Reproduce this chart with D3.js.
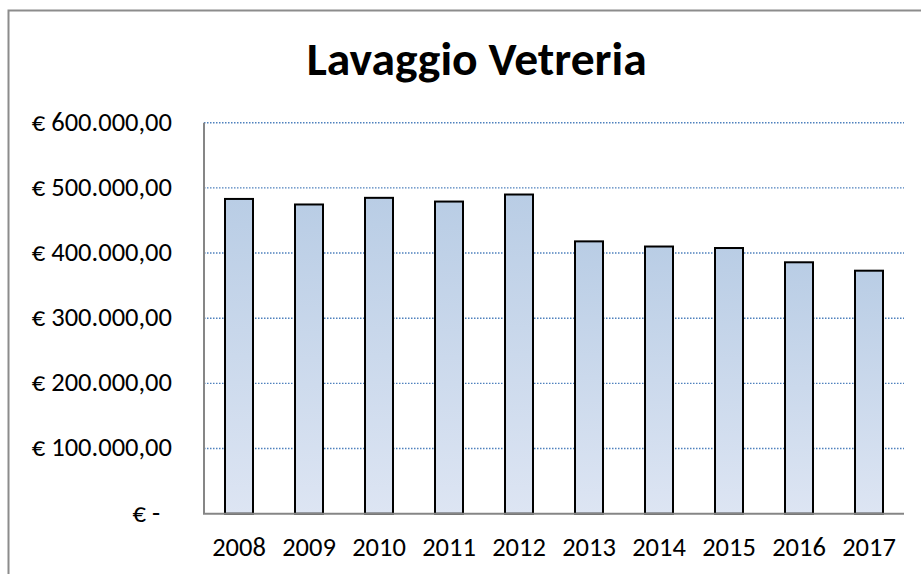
<!DOCTYPE html>
<html>
<head>
<meta charset="utf-8">
<script src="https://cdn.jsdelivr.net/npm/d3@7"></script>
<style>
  body { margin: 0; background: #fff; }
  text { font-family: Carlito, "Open Sans", sans-serif; fill: #000; }
</style>
</head>
<body>
<div id="chart"></div>
<script>
const years = ["2008", "2009", "2010", "2011", "2012", "2013", "2014", "2015", "2016", "2017"];
const costs = [483000, 474500, 484700, 479000, 489800, 417900, 410000, 407700, 385800, 372900];
const yTicks = [0, 100000, 200000, 300000, 400000, 500000, 600000];
const yTickLabels = ["€ -", "€ 100.000,00", "€ 200.000,00", "€ 300.000,00", "€ 400.000,00", "€ 500.000,00", "€ 600.000,00"];
const title = "Lavaggio Vetreria";

const width = 921, height = 574;
const margin = { top: 122.7, right: 17, bottom: 60.3, left: 204 };

const svg = d3.select("#chart").append("svg")
    .attr("width", width)
    .attr("height", height);

// gradient for bars
const grad = svg.append("defs").append("linearGradient")
    .attr("id", "barGrad")
    .attr("x1", 0).attr("y1", 0).attr("x2", 0).attr("y2", 1);
grad.append("stop").attr("offset", "0%").attr("stop-color", "#b9cde5");
grad.append("stop").attr("offset", "100%").attr("stop-color", "#dde5f3");

// outer chart border (only top/left visible)
svg.append("path")
    .attr("d", `M8.5,${height} V10.5 H${width}`)
    .attr("fill", "none")
    .attr("stroke", "#8c8c8c")
    .attr("stroke-width", 2);

const x = d3.scaleBand()
    .domain(years)
    .range([margin.left, width - margin.right])
    .paddingInner(0.6)
    .paddingOuter(0.3);

const y = d3.scaleLinear()
    .domain([0, 600000])
    .range([height - margin.bottom, margin.top]);

// gridlines
svg.append("g")
    .selectAll("line")
    .data(yTicks.slice(1))
    .enter().append("line")
    .attr("x1", margin.left)
    .attr("x2", width - margin.right)
    .attr("y1", d => y(d))
    .attr("y2", d => y(d))
    .attr("stroke", "#4f81bd")
    .attr("stroke-width", 1.4)
    .attr("stroke-dasharray", "1.5,1.5");

// y labels
svg.append("g")
    .selectAll("text")
    .data(yTicks)
    .enter().append("text")
    .attr("x", (d, i) => i === 0 ? 160 : 172)
    .attr("y", d => y(d))
    .attr("dy", "0.3em")
    .attr("text-anchor", "end")
    .style("font-size", "26.5px")
    .text((d, i) => yTickLabels[i]);

// bars
svg.append("g")
    .selectAll("rect")
    .data(costs)
    .enter().append("rect")
    .attr("x", (d, i) => x(years[i]))
    .attr("y", d => y(d))
    .attr("width", x.bandwidth())
    .attr("height", d => y(0) - y(d))
    .attr("fill", "url(#barGrad)")
    .attr("stroke", "#000")
    .attr("stroke-width", 2);

// axes lines
svg.append("line")
    .attr("x1", margin.left).attr("x2", margin.left)
    .attr("y1", margin.top).attr("y2", y(0))
    .attr("stroke", "#868686").attr("stroke-width", 2);
svg.append("line")
    .attr("x1", margin.left - 1).attr("x2", width - margin.right)
    .attr("y1", y(0)).attr("y2", y(0))
    .attr("stroke", "#868686").attr("stroke-width", 2);

// x labels
svg.append("g")
    .selectAll("text")
    .data(years)
    .enter().append("text")
    .attr("x", d => x(d) + x.bandwidth() / 2)
    .attr("y", y(0) + 42.3)
    .attr("text-anchor", "middle")
    .style("font-size", "26.5px")
    .text(d => d);

// title
svg.append("text")
    .attr("x", 476.7)
    .attr("y", 75)
    .attr("text-anchor", "middle")
    .attr("textLength", 340)
    .attr("lengthAdjust", "spacingAndGlyphs")
    .style("font-size", "46.5px")
    .style("font-weight", "bold")
    .text(title);
</script>
</body>
</html>
